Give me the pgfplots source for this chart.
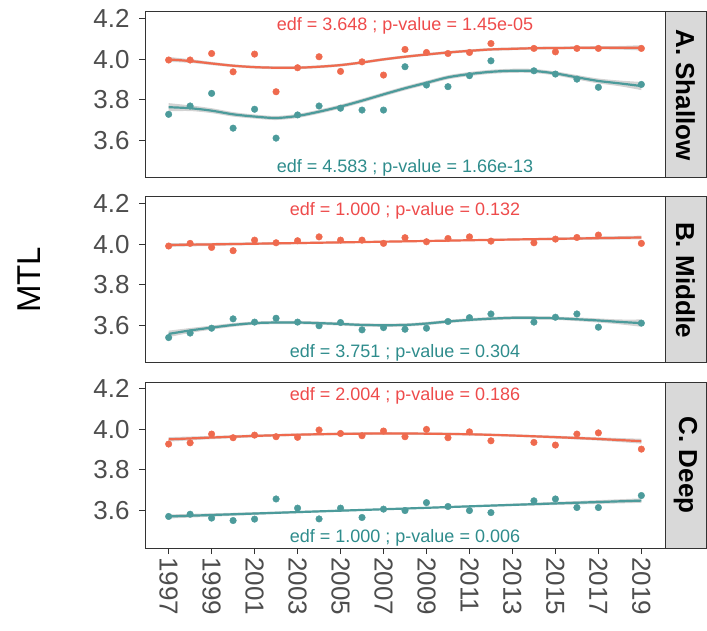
\documentclass[border=0pt]{standalone}
\usepackage{fontspec}
\setmainfont{Liberation Sans}
\usepackage{pgfplots}
\usepackage{pgfplotstable}
\pgfplotsset{compat=1.18}
\usepgfplotslibrary{fillbetween}
\definecolor{orn}{HTML}{EF6A4E}
\definecolor{orntxt}{HTML}{EE4B4B}
\definecolor{tl}{HTML}{4C9B9B}
\definecolor{tltxt}{HTML}{2E8C8C}
\definecolor{frame}{HTML}{333333}
\definecolor{ticklab}{HTML}{4D4D4D}
\definecolor{stripfill}{HTML}{D9D9D9}

% ---------- Panel A ----------
\pgfplotstableread{
x y
1997 3.996
1998 3.996
1999 4.028
2000 3.938
2001 4.025
2002 3.840
2003 3.958
2004 4.012
2005 3.940
2006 3.987
2007 3.922
2008 4.048
2009 4.033
2010 4.028
2011 4.033
2012 4.077
2014 4.053
2015 4.036
2016 4.053
2017 4.053
2019 4.053
}\Aopts
\pgfplotstableread{
x y se
1997 3.999 .012
1998 3.991 .009
1999 3.979 .008
2000 3.968 .007
2001 3.961 .007
2002 3.958 .007
2003 3.958 .007
2004 3.963 .007
2005 3.971 .007
2006 3.984 .007
2007 3.999 .007
2008 4.012 .007
2009 4.023 .007
2010 4.033 .007
2011 4.041 .007
2012 4.048 .007
2013 4.051 .007
2014 4.054 .007
2015 4.055 .007
2016 4.056 .007
2017 4.056 .008
2018 4.056 .009
2019 4.056 .013
}\Aofit
\pgfplotstableread{
x y
1997 3.729
1998 3.770
1999 3.832
2000 3.661
2001 3.754
2002 3.612
2003 3.726
2004 3.770
2005 3.759
2006 3.750
2007 3.750
2008 3.963
2009 3.873
2010 3.865
2011 3.919
2012 3.992
2014 3.943
2015 3.927
2016 3.902
2017 3.862
2019 3.876
}\Atpts
\pgfplotstableread{
x y se
1997 3.764 .020
1998 3.759 .014
1999 3.747 .012
2000 3.729 .011
2001 3.718 .010
2002 3.711 .010
2003 3.721 .010
2004 3.742 .010
2005 3.767 .010
2006 3.796 .010
2007 3.827 .010
2008 3.857 .010
2009 3.884 .010
2010 3.911 .010
2011 3.927 .010
2012 3.938 .010
2013 3.943 .010
2014 3.942 .010
2015 3.930 .010
2016 3.911 .011
2017 3.893 .012
2018 3.881 .014
2019 3.868 .020
}\Atfit

% ---------- Panel B ----------
\pgfplotstableread{
x y
1997 3.991
1998 4.004
1999 3.984
2000 3.968
2001 4.020
2002 4.007
2003 4.017
2004 4.036
2005 4.020
2006 4.020
2007 4.004
2008 4.032
2009 4.012
2010 4.028
2011 4.036
2012 4.015
2014 4.007
2015 4.025
2016 4.033
2017 4.045
2019 4.004
}\Bopts
\pgfplotstableread{
x y se
1997 3.996 .009
2002 4.004 .006
2008 4.014 .004
2013 4.023 .005
2019 4.033 .009
}\Bofit
\pgfplotstableread{
x y
1997 3.541
1998 3.563
1999 3.587
2000 3.633
2001 3.617
2002 3.636
2003 3.617
2004 3.599
2005 3.615
2006 3.579
2007 3.590
2008 3.582
2009 3.587
2010 3.620
2011 3.639
2012 3.657
2014 3.617
2015 3.641
2016 3.657
2017 3.592
2019 3.612
}\Btpts
\pgfplotstableread{
x y se
1997 3.559 .016
1998 3.576 .012
1999 3.590 .010
2000 3.603 .009
2001 3.612 .008
2002 3.615 .008
2003 3.615 .008
2004 3.612 .008
2005 3.608 .008
2006 3.603 .008
2007 3.602 .008
2008 3.603 .008
2009 3.610 .008
2010 3.620 .008
2011 3.628 .008
2012 3.634 .008
2013 3.638 .008
2014 3.638 .008
2015 3.636 .008
2016 3.631 .009
2017 3.625 .010
2018 3.618 .012
2019 3.612 .018
}\Btfit

% ---------- Panel C ----------
\pgfplotstableread{
x y
1997 3.927
1998 3.933
1999 3.976
2000 3.958
2001 3.971
2002 3.963
2003 3.960
2004 3.996
2005 3.979
2006 3.968
2007 3.991
2008 3.963
2009 3.999
2010 3.958
2011 3.987
2012 3.943
2014 3.935
2015 3.922
2016 3.976
2017 3.982
2019 3.902
}\Copts
\pgfplotstableread{
x y se
1997 3.950 .011
1999 3.959 .008
2001 3.967 .007
2003 3.973 .006
2005 3.977 .006
2007 3.979 .006
2009 3.978 .006
2011 3.975 .006
2013 3.969 .006
2015 3.961 .007
2017 3.952 .008
2019 3.941 .012
}\Cofit
\pgfplotstableread{
x y
1997 3.571
1998 3.582
1999 3.563
2000 3.551
2001 3.558
2002 3.657
2003 3.612
2004 3.559
2005 3.612
2006 3.566
2007 3.607
2008 3.600
2009 3.639
2010 3.620
2011 3.600
2012 3.590
2014 3.648
2015 3.657
2016 3.615
2017 3.615
2019 3.674
}\Ctpts
\pgfplotstableread{
x y se
1997 3.571 .010
2002 3.589 .006
2008 3.610 .004
2013 3.628 .006
2019 3.649 .011
}\Ctfit

\pgfplotsset{
  panel/.style={
    scale only axis, width=520pt, height=166pt,
    xmin=1995.9, xmax=2020.1, ymin=3.416, ymax=4.232,
    ytick={3.6,3.8,4.0,4.2},
    /pgf/number format/assume math mode=true,
    yticklabel style={font=\fontsize{26}{26}\selectfont, text=ticklab, xshift=-6pt,
      /pgf/number format/.cd, fixed, fixed zerofill, precision=1},
    tick align=outside, tick pos=left, major tick length=6pt,
    tick style={frame, line width=1pt},
    axis line style={frame, line width=1pt},
    xtick=\empty,
  },
  pts/.style={only marks, mark=*, mark size=3.3pt, color=#1, mark options={solid, draw=#1, fill=#1}},
  fitline/.style={#1, line width=2.2pt, smooth, no marks},
}
\tikzset{ann/.style={text=#1, font=\fontsize{18}{20}\selectfont}}

\newcommand{\fit}[2]{%
  \addplot[draw=none, name path=up, smooth, forget plot] table[x=x, y expr=\thisrow{y}+\thisrow{se}] {#1};
  \addplot[draw=none, name path=lo, smooth, forget plot] table[x=x, y expr=\thisrow{y}-\thisrow{se}] {#1};
  \addplot[fill=gray, fill opacity=0.35, draw=none, forget plot] fill between[of=up and lo];
  \addplot[fitline=#2] table[x=x, y=y] {#1};
}

\newcommand{\strip}[2]{%
  \draw[frame, line width=1pt, fill=stripfill] (#1.south east) rectangle ([xshift=41pt]#1.north east);
  \node[rotate=-90, font=\bfseries\fontsize{26}{26}\selectfont, text=black] at ([xshift=20.5pt]#1.east) {#2};
}

\begin{document}
\begin{tikzpicture}

% Panel A
\begin{axis}[panel, name=A, at={(145pt,452pt)}, anchor=south west]
  \addplot[pts=orn] table {\Aopts};
  \addplot[pts=tl] table {\Atpts};
  \fit{\Aofit}{orn}
  \fit{\Atfit}{tl}
  \node[ann=orntxt] at (axis cs:2008,4.165) {edf = 3.648 ; p-value = 1.45e-05};
  \node[ann=tltxt] at (axis cs:2008,3.468) {edf = 4.583 ; p-value = 1.66e-13};
\end{axis}
\strip{A}{A. Shallow}

% Panel B
\begin{axis}[panel, name=B, at={(145pt,267pt)}, anchor=south west]
  \addplot[pts=orn] table {\Bopts};
  \addplot[pts=tl] table {\Btpts};
  \fit{\Bofit}{orn}
  \fit{\Btfit}{tl}
  \node[ann=orntxt] at (axis cs:2008,4.165) {edf = 1.000 ; p-value = 0.132};
  \node[ann=tltxt] at (axis cs:2008,3.468) {edf = 3.751 ; p-value = 0.304};
\end{axis}
\strip{B}{B. Middle}

% Panel C
\begin{axis}[panel, name=C, at={(145pt,82pt)}, anchor=south west,
    xtick={1997,1999,2001,2003,2005,2007,2009,2011,2013,2015,2017,2019},
    xticklabels={1997,1999,2001,2003,2005,2007,2009,2011,2013,2015,2017,2019},
    xticklabel style={rotate=-90, anchor=west, font=\fontsize{26}{26}\selectfont, text=ticklab}]
  \addplot[pts=orn] table {\Copts};
  \addplot[pts=tl] table {\Ctpts};
  \fit{\Cofit}{orn}
  \fit{\Ctfit}{tl}
  \node[ann=orntxt] at (axis cs:2008,4.165) {edf = 2.004 ; p-value = 0.186};
  \node[ann=tltxt] at (axis cs:2008,3.468) {edf = 1.000 ; p-value = 0.006};
\end{axis}
\strip{C}{C. Deep}

\node[rotate=90, font=\fontsize{33}{33}\selectfont, text=black] at (29pt,350pt) {MTL};
\path (0,0) rectangle (707pt,630pt);
\end{tikzpicture}
\end{document}
